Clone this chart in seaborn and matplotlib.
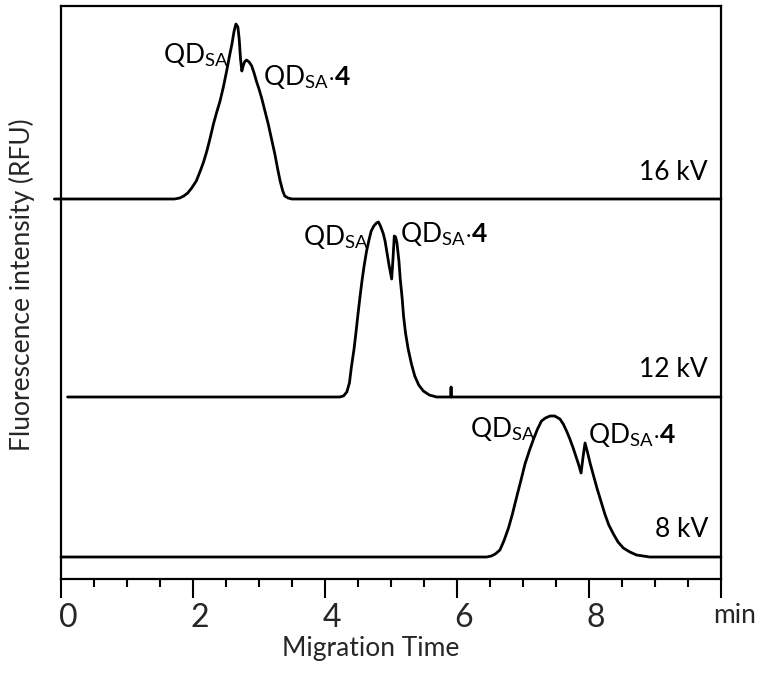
import numpy as np
import pandas as pd
import matplotlib
matplotlib.use("Agg")
import matplotlib.pyplot as plt
import matplotlib.transforms as mtransforms
import seaborn as sns

# ---- data (migration time in min, fluorescence in arbitrary units above each baseline) ----
t_16kV = [-0.1, 1.72, 1.80, 1.86, 1.92, 1.98, 2.05, 2.11, 2.16, 2.21, 2.26, 2.31, 2.36, 2.41,
          2.46, 2.51, 2.55, 2.59, 2.62, 2.65, 2.68, 2.70, 2.72, 2.74, 2.76, 2.78, 2.81, 2.85,
          2.89, 2.93, 2.96, 3.00, 3.04, 3.09, 3.14, 3.19, 3.24, 3.28, 3.32, 3.36, 3.39, 3.44,
          3.50, 10.0]
i_16kV = [0, 0, 1, 3, 6, 11, 18, 28, 37, 48, 61, 75, 87, 98,
          112, 128, 142, 155, 167, 175, 172, 160, 140, 128, 133, 137, 139, 137,
          133, 125, 118, 110, 101, 88, 75, 60, 45, 31, 18, 8, 3, 1,
          0, 0]

t_12kV = [0.1, 4.22, 4.28, 4.33, 4.37, 4.40, 4.44, 4.47, 4.50, 4.53, 4.56, 4.59, 4.63, 4.67,
          4.70, 4.74, 4.78, 4.81, 4.84, 4.88, 4.91, 4.94, 4.97, 5.01, 5.03, 5.05, 5.07, 5.09,
          5.12, 5.14, 5.17, 5.19, 5.22, 5.26, 5.31, 5.36, 5.42, 5.49, 5.58, 5.69, 5.905, 5.91,
          5.915, 10.0]
i_12kV = [0, 0, 1, 5, 14, 30, 48, 65, 83, 100, 116, 130, 146, 158,
          166, 171, 174, 175, 171, 164, 156, 144, 132, 118, 138, 161, 160, 154,
          136, 118, 98, 81, 64, 48, 33, 21, 12, 6, 2, 0, 0, 10,
          0, 0]

t_8kV = [0.0, 6.45, 6.52, 6.58, 6.65, 6.71, 6.78, 6.84, 6.90, 6.97, 7.03, 7.10, 7.16, 7.22,
         7.28, 7.34, 7.41, 7.48, 7.56, 7.61, 7.66, 7.71, 7.76, 7.80, 7.84, 7.88, 7.91, 7.94,
         7.98, 8.02, 8.07, 8.12, 8.18, 8.24, 8.30, 8.37, 8.44, 8.52, 8.62, 8.72, 8.82, 8.92,
         10.0]
i_8kV = [0, 0, 1, 3, 7, 16, 29, 43, 59, 77, 93, 107, 118, 128,
         136, 139, 141, 141, 138, 133, 126, 118, 109, 101, 93, 84, 100, 114,
         104, 93, 81, 69, 56, 43, 32, 23, 15, 9, 5, 2, 1, 0,
         0]

voltages = ["16 kV", "12 kV", "8 kV"]
xtick_values = [0, 2, 4, 6, 8, 10]
xtick_labels = ["0", "2", "4", "6", "8", "min"]

# vertical stacking offsets of each trace baseline
offsets = {"16 kV": 380, "12 kV": 182, "8 kV": 22}

# ---- style ----
sns.set_theme(style="white")
plt.rcParams["font.family"] = ["Lato", "DejaVu Sans"]
plt.rcParams["mathtext.fontset"] = "custom"
plt.rcParams["mathtext.rm"] = "Lato"
plt.rcParams["mathtext.it"] = "Lato:italic"
plt.rcParams["mathtext.bf"] = "Lato:bold"

W, H = 763, 677
fig = plt.figure(figsize=(W / 100, H / 100), dpi=100)
L, R, T, B = 61, 721, 6, 579
ax = fig.add_axes([L / W, 1 - B / H, (R - L) / W, (B - T) / H])

frames = []
for v, t, i in zip(voltages, [t_16kV, t_12kV, t_8kV], [i_16kV, i_12kV, i_8kV]):
    frames.append(pd.DataFrame({"time": t, "signal": np.array(i) + offsets[v], "voltage": v}))
df = pd.concat(frames, ignore_index=True)

for v in voltages:
    sub = df[df["voltage"] == v]
    sns.lineplot(data=sub, x="time", y="signal", ax=ax, color="black", lw=2.0,
                 sort=False, estimator=None, clip_on=False,
                 solid_joinstyle="round", solid_capstyle="round")

ax.set_xlim(0, 10)
ax.set_ylim(0, B - T)
ax.set_yticks([])
ax.set_xticks(xtick_values)
ax.set_xticklabels(xtick_labels)
ax.set_xticks(np.arange(0, 10.01, 0.5), minor=True)
ax.tick_params(axis="x", which="major", direction="out", length=13.5, width=1.5,
               color="black", labelsize=23, pad=4, bottom=True)
ax.tick_params(axis="x", which="minor", direction="out", length=6, width=1.5,
               color="black", bottom=True)
for lab in ax.get_xticklabels():
    dx = 14 if lab.get_text() == "min" else 7
    if lab.get_text() == "min":
        lab.set_fontsize(19)
    lab.set_transform(lab.get_transform() + mtransforms.ScaledTranslation(dx / 100, 0, fig.dpi_scale_trans))
for s in ax.spines.values():
    s.set_visible(True)
    s.set_color("black")
    s.set_linewidth(1.6)
ax.set_xlabel("")
ax.set_ylabel("")

def px(xp, yp):
    return (xp - L) / 66.0, B - yp

fs = 19
qd = r"QD$_{\mathrm{SA}}$"
qd4 = r"QD$_{\mathrm{SA}}$" + r"$\mathbf{\cdot 4}$"
for (xp, yp, s) in [(163, 63, qd), (263, 85, qd4),
                    (303, 245, qd), (400, 242, qd4),
                    (470, 437, qd), (588, 443, qd4)]:
    x, y = px(xp, yp)
    ax.text(x, y, s, fontsize=fs, ha="left", va="baseline", color="black")

for v, yp in zip(voltages, [180, 377, 537]):
    x, y = px(708, yp)
    ax.text(x, y, v, fontsize=fs, ha="right", va="baseline", color="black")

fig.text(371 / W, 1 - 656 / H, "Migration Time", fontsize=19, ha="center", va="baseline")
fig.text(22 / W, 1 - 285 / H, "Fluorescence intensity (RFU)", fontsize=19,
         rotation=90, ha="center", va="center")

fig.savefig("out.png", dpi=100)
